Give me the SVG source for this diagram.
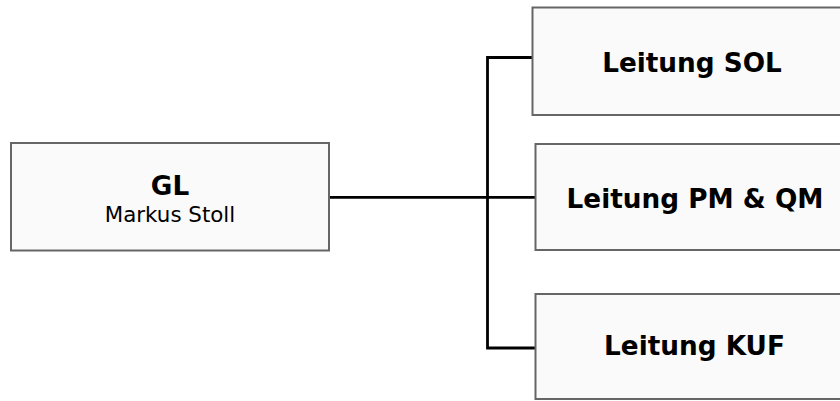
<svg xmlns="http://www.w3.org/2000/svg" width="840" height="401" viewBox="0 0 840 401">
<style>
.box{fill:#fafafa;stroke:#666;stroke-width:2}
.conn{fill:none;stroke:#000;stroke-width:2.8}
.b{font-family:"DejaVu Sans",Verdana,sans-serif;font-weight:bold;font-size:26.3px;fill:#000;text-anchor:middle}
.r{font-family:"DejaVu Sans",Verdana,sans-serif;font-size:21.4px;fill:#000;text-anchor:middle}
</style>
<rect width="840" height="401" fill="#fff"/>
<g id="connectors">
<path class="conn" d="M329 197.3H535"/>
<path class="conn" d="M532.5 57.5H487.5V348H535"/>
</g>
<g id="gl">
<rect class="box" x="11" y="143" width="318" height="107.5"/>
<text class="b" x="170" y="195">GL</text>
<text class="r" x="170" y="221.5">Markus Stoll</text>
</g>
<g id="sol">
<rect class="box" x="532.5" y="7.5" width="318" height="107.5"/>
<text class="b" x="692" y="71.5">Leitung SOL</text>
</g>
<g id="pmqm">
<rect class="box" x="535.5" y="144" width="318" height="106"/>
<text class="b" x="695" y="208.3">Leitung PM &amp; QM</text>
</g>
<g id="kuf">
<rect class="box" x="535.5" y="294" width="318" height="105"/>
<text class="b" x="694.5" y="355">Leitung KUF</text>
</g>
</svg>
